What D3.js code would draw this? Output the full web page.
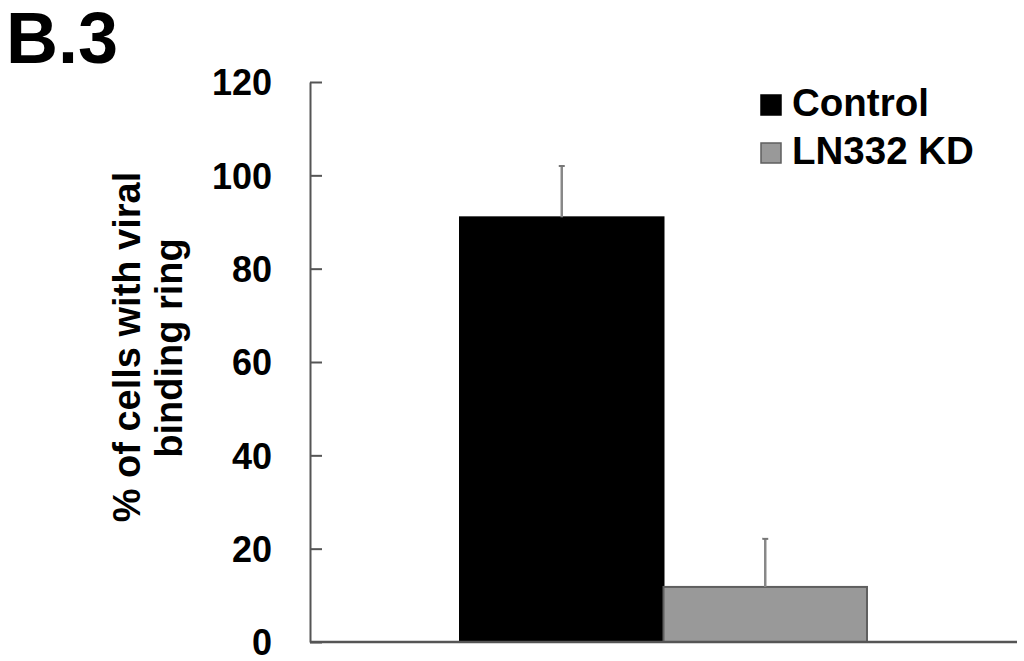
<!DOCTYPE html>
<html>
<head>
<meta charset="utf-8">
<script src="https://cdn.jsdelivr.net/npm/d3@7"></script>
<style>
  html, body { margin: 0; padding: 0; background: #fff; }
  svg { display: block; font-family: "Liberation Sans", Arial, sans-serif; font-weight: bold; }
</style>
</head>
<body>
<svg id="chart" width="1024" height="661"></svg>
<script>
// ---- data ----
const groups = ["Binding ring"];
const series = ["Control", "LN332 KD"];
const values = [91, 11.8];
const errors = [11, 10.3];
const colors = ["#000000", "#999999"];
const strokeColors = ["#000000", "#5f5f5f"];
const yTicks = [0, 20, 40, 60, 80, 100, 120];
const yLabelLines = ["% of cells with viral", "binding ring"];
const title = "B.3";

const svg = d3.select("#chart");

const y = d3.scaleLinear().domain([0, 120]).range([642, 82]);
const x0 = d3.scaleBand().domain(groups).range([310, 1017]).paddingInner(0).paddingOuter(0.3686);
const x1 = d3.scaleBand().domain(series).range([0, x0.bandwidth()]).padding(0);

// title
svg.append("text").attr("x", 6).attr("y", 63)
  .attr("font-size", 72).attr("fill", "#000").text(title);

// y axis
const yAxis = d3.axisLeft(y).tickValues(yTicks).tickSizeInner(-12).tickSizeOuter(0).tickPadding(38);
const gy = svg.append("g").attr("transform", "translate(310,0)").call(yAxis);
gy.select(".domain").attr("stroke", "#555").attr("stroke-width", 2);
gy.selectAll(".tick line").attr("stroke", "#555").attr("stroke-width", 2);
gy.selectAll(".tick text").attr("font-size", 36).attr("fill", "#000")
  .attr("font-family", "'Liberation Sans', Arial, sans-serif").attr("font-weight", "bold")
  .attr("dy", "0.36em");

// bars
const data = series.map((s, i) => ({ s, v: values[i], e: errors[i], c: colors[i], sc: strokeColors[i] }));
const g = svg.append("g");
g.selectAll("rect.bar").data(data).join("rect")
  .attr("class", "bar")
  .attr("x", d => x0(groups[0]) + x1(d.s))
  .attr("y", d => y(d.v))
  .attr("width", x1.bandwidth())
  .attr("height", d => y(0) - y(d.v))
  .attr("fill", d => d.c)
  .attr("stroke", d => d.sc)
  .attr("stroke-width", 2);

// error bars (upper only)
const eb = g.selectAll("g.err").data(data).join("g").attr("class", "err");
eb.append("line")
  .attr("x1", d => x0(groups[0]) + x1(d.s) + x1.bandwidth() / 2)
  .attr("x2", d => x0(groups[0]) + x1(d.s) + x1.bandwidth() / 2)
  .attr("y1", d => y(d.v))
  .attr("y2", d => y(d.v + d.e))
  .attr("stroke", "#888").attr("stroke-width", 2.5);
eb.append("line")
  .attr("x1", d => x0(groups[0]) + x1(d.s) + x1.bandwidth() / 2 - 3)
  .attr("x2", d => x0(groups[0]) + x1(d.s) + x1.bandwidth() / 2 + 3)
  .attr("y1", d => y(d.v + d.e))
  .attr("y2", d => y(d.v + d.e))
  .attr("stroke", "#777").attr("stroke-width", 2);

// x axis line
const xr = x0.range();
svg.append("line").attr("x1", xr[0]).attr("x2", xr[1]).attr("y1", y(0)).attr("y2", y(0))
  .attr("stroke", "#555").attr("stroke-width", 2.5);

// y label
const yl = [[140, 347], [182, 348]];
yLabelLines.forEach((t, i) => {
  svg.append("text")
    .attr("transform", `translate(${yl[i][0]},${yl[i][1]}) rotate(-90)`)
    .attr("text-anchor", "middle").attr("font-size", 38).attr("fill", "#000").text(t);
});

// legend
const leg = svg.append("g");
series.forEach((s, i) => {
  const yy = 95 + i * 48;
  leg.append("rect").attr("x", 761).attr("y", yy).attr("width", 20).attr("height", 20)
    .attr("fill", colors[i]).attr("stroke", strokeColors[i]).attr("stroke-width", 1.5);
  leg.append("text").attr("x", 792).attr("y", yy + 21).attr("font-size", 38.5).attr("fill", "#000").text(s);
});
</script>
</body>
</html>
